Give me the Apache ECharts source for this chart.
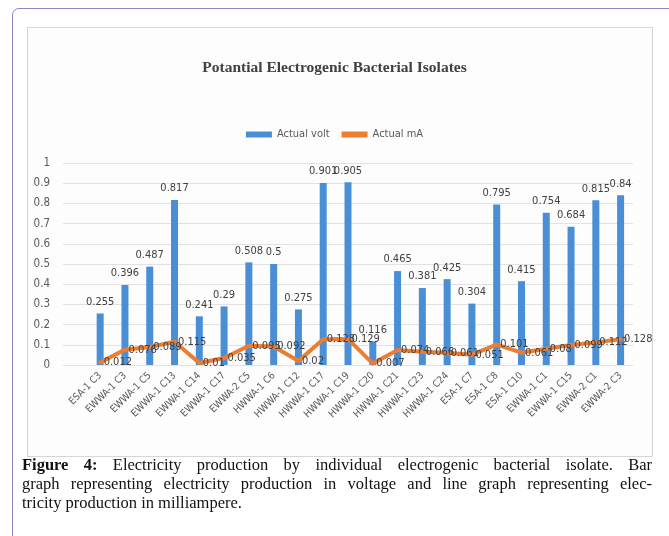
<!DOCTYPE html>
<html>
<head>
<meta charset="utf-8">
<script src="https://cdn.jsdelivr.net/npm/echarts@6/dist/echarts.min.js"></script>
<style>
  html, body { margin: 0; padding: 0; background: #ffffff; width: 669px; height: 536px; overflow: hidden; position: relative; }
  #frame { position: absolute; left: 12px; top: 8px; width: 800px; height: 700px; border: 1.5px solid #8c88c2; border-radius: 7px; box-sizing: border-box; }
  #box { position: absolute; left: 27px; top: 27px; width: 626px; height: 430px; border: 1px solid #d6d6d6; box-sizing: border-box; background: #fdfdfd; }
  #chart { position: absolute; left: 0; top: 0; width: 669px; height: 536px; }
  #caption { position: absolute; left: 22px; top: 455px; width: 630px; font-family: 'Liberation Serif', 'Times New Roman', serif; font-size: 16.5px; line-height: 19px; color: #111; }
  .j { text-align: justify; text-align-last: justify; white-space: nowrap; }
</style>
</head>
<body>
<div id="frame"></div>
<div id="box"></div>
<div id="chart"></div>
<div id="caption">
  <div class="j"><b>Figure 4:</b> Electricity production by individual electrogenic bacterial isolate. Bar</div>
  <div class="j">graph representing electricity production in voltage and line graph representing elec-</div>
  <div>tricity production in milliampere.</div>
</div>
<script>
const categories = ['ESA-1 C3','EWWA-1 C3','EWWA-1 C5','EWWA-1 C13','EWWA-1 C14','EWWA-1 C17','EWWA-2 C5','HWWA-1 C6','HWWA-1 C12','HWWA-1 C17','HWWA-1 C19','HWWA-1 C20','HWWA-1 C21','HWWA-1 C23','HWWA-1 C24','ESA-1 C7','ESA-1 C8','ESA-1 C10','EWWA-1 C1','EWWA-1 C15','EWWA-2 C1','EWWA-2 C3'];
const actualVolt = [0.255,0.396,0.487,0.817,0.241,0.29,0.508,0.5,0.275,0.901,0.905,0.116,0.465,0.381,0.425,0.304,0.795,0.415,0.754,0.684,0.815,0.84];
const actualMA = [0.012,0.076,0.089,0.115,0.01,0.035,0.095,0.092,0.02,0.128,0.129,0.007,0.074,0.066,0.061,0.051,0.101,0.061,0.08,0.099,0.112,0.128];
const yTicks = [0,0.1,0.2,0.3,0.4,0.5,0.6,0.7,0.8,0.9,1];

const narrow = "'Liberation Sans Narrow', 'DejaVu Sans Condensed', 'Roboto', sans-serif";
const chart = echarts.init(document.getElementById('chart'), null, { renderer: 'canvas' });
chart.setOption({
  backgroundColor: 'transparent',
  animation: false,
  title: {
    text: 'Potantial Electrogenic Bacterial Isolates',
    left: 'center', top: 55,
    textStyle: { fontFamily: "'Liberation Serif', serif", fontWeight: 'bold', fontSize: 15.5, color: '#404040' }
  },
  legend: {
    top: 124, left: 'center', itemGap: 12,
    textStyle: { fontFamily: narrow, fontSize: 11, color: '#595959' },
    data: [
      { name: 'Actual volt', icon: 'rect', itemStyle: { color: '#4a8fd6' } },
      { name: 'Actual mA', icon: 'rect' }
    ],
    itemWidth: 26, itemHeight: 6
  },
  grid: { left: 63, right: 36, top: 163, bottom: 171, containLabel: false },
  xAxis: {
    type: 'category', data: categories, min: -1,
    axisLine: { show: false }, axisTick: { show: false },
    axisLabel: {
      rotate: 45, interval: 0, fontFamily: narrow, fontSize: 10, color: '#595959', margin: 9,
      formatter: v => (v === undefined || v === null) ? '' : v
    }
  },
  yAxis: {
    type: 'value', min: 0, max: 1, interval: 0.1,
    axisLine: { show: false }, axisTick: { show: false },
    axisLabel: { fontFamily: narrow, fontSize: 11.5, color: '#595959', margin: 13,
      formatter: v => { const t = yTicks.find(x => Math.abs(x - v) < 1e-9); return t === undefined ? '' : String(t); } },
    splitLine: { lineStyle: { color: '#e2e2e2', width: 1 } }
  },
  series: [
    {
      name: 'Actual volt', type: 'bar', data: actualVolt, barWidth: 7,
      itemStyle: { color: '#4a8fd6' },
      label: { show: true, position: 'top', distance: 6, fontFamily: narrow, fontSize: 11, color: '#404040' }
    },
    {
      name: 'Actual mA', type: 'line', data: actualMA,
      symbol: 'circle', symbolSize: 1, showSymbol: true,
      lineStyle: { color: '#ed7d31', width: 4, join: 'round', cap: 'round' },
      itemStyle: { color: '#ed7d31' },
      label: { show: true, position: 'right', distance: 3, fontFamily: narrow, fontSize: 11, color: '#404040' }
    }
  ],
  color: ['#4a8fd6', '#ed7d31']
});
</script>
</body>
</html>
